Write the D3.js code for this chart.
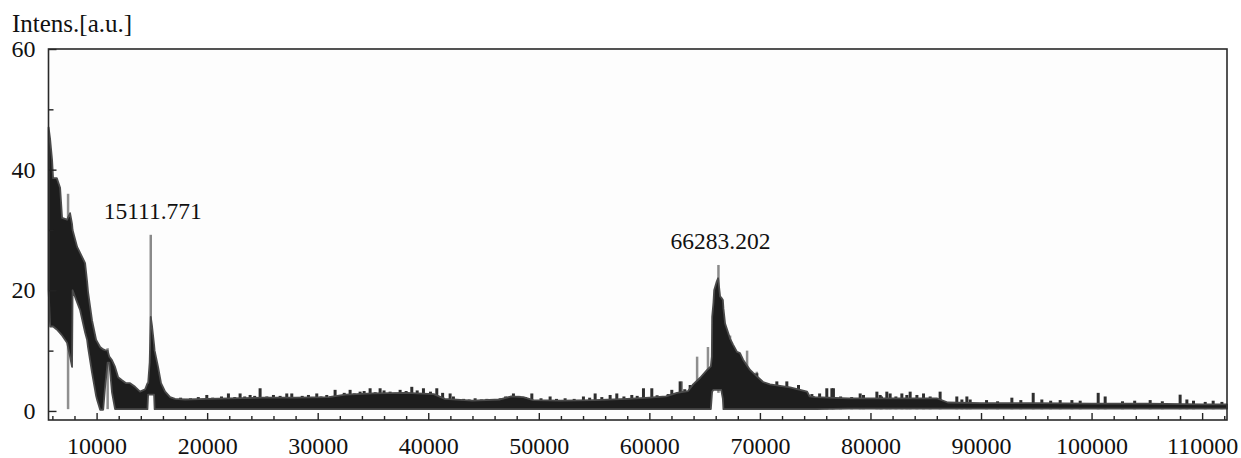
<!DOCTYPE html>
<html>
<head>
<meta charset="utf-8">
<script src="https://cdn.jsdelivr.net/npm/d3@7/dist/d3.min.js"></script>
</head>
<body>
<script>
// Parameters
const width = 1241;
const height = 458;
const margin = { top: 49, right: 14, bottom: 38, left: 48.5 };
const textFont = "'Liberation Serif'";

// envelope of the dense trace: mass (Da), upper and lower intensity
const envMass = [5658, 5800, 5975, 6065, 6400, 6700, 6880, 7330, 7600, 7780, 7830, 8240, 8510, 8960, 9140, 9230, 9590, 9955, 10050, 10320,
    10600, 10770, 11000, 11150, 11400, 11670, 11950, 12300, 12670, 13030, 13480, 13930, 14390, 14600, 14660, 14800, 14900, 15020, 15200, 15250,
    15560, 15830, 16200, 16650, 17100, 18000, 20000, 22000, 25000, 28000, 31000, 32500, 35000, 38000, 40500, 41500, 44000, 46500, 47500, 48600,
    49500, 52000, 55000, 58000, 60000, 61500, 62500, 63500, 63960, 64594, 65225, 65560, 65650, 65680, 65800, 65860, 66100, 66220, 66400, 66500,
    66650, 66700, 66850, 67120, 67300, 67570, 67930, 68200, 68480, 69110, 69390, 70290, 70920, 72730, 74270, 74500, 75000, 78000, 82000, 86000,
    87000, 90000, 95000, 100000, 105000, 110000, 112250];
const envHigh = [47, 45, 41.6, 38.6, 38.6, 37, 32, 31.7, 32.8, 31, 30, 27.2, 26.2, 24.5, 21.5, 19.7, 15, 11.8, 11.5, 10.6,
    10.2, 10.1, 10, 9, 8.4, 7.3, 5.6, 5.1, 4.6, 4.6, 4, 3.2, 3.6, 4.6, 4.6, 8, 15.6, 14, 11, 10,
    7.3, 4.6, 3.2, 2.3, 2.0, 1.9, 2.0, 2.1, 2.2, 2.2, 2.3, 2.7, 2.9, 3.0, 2.8, 2.0, 1.7, 1.9, 2.4, 2.3,
    1.8, 1.7, 1.8, 2.0, 2.2, 2.4, 3.0, 3.3, 4.4, 5.5, 6.8, 7.4, 9, 15.6, 18, 20, 21.5, 22, 19, 18.8,
    18.4, 17, 14.5, 13, 12, 11, 9.8, 9.6, 8.5, 6.8, 6.3, 4.8, 4.4, 3.9, 3.2, 2.4, 2.3, 2.1, 2.1, 2.1,
    1.4, 1.3, 1.3, 1.2, 1.2, 1.1, 1.1];
const envLow = [20, 14, 14, 14, 13.5, 12.9, 12.5, 11.3, 9, 7.3, 20, 18, 16.7, 13, 11.8, 10.5, 6.3, 2.5, 1.8, 0.2,
    0.2, 4, 8, 8, 3, 0.3, 0.3, 0.3, 0.3, 0.3, 0.3, 0.3, 0.3, 0.3, 2.7, 2.7, 2.7, 2.7, 2.7, 0.3,
    0.3, 0.3, 0.3, 0.3, 0.3, 0.3, 0.3, 0.3, 0.3, 0.3, 0.3, 0.3, 0.3, 0.3, 0.3, 0.3, 0.3, 0.3, 0.3, 0.3,
    0.3, 0.3, 0.3, 0.3, 0.3, 0.3, 0.3, 0.3, 0.3, 0.3, 0.3, 0.3, 2.5, 3.2, 3.5, 3.5, 3.5, 3.5, 3.5, 3.5,
    2, 0.3, 0.3, 0.3, 0.3, 0.3, 0.3, 0.3, 0.3, 0.3, 0.3, 0.3, 0.3, 0.3, 0.3, 0.3, 0.3, 0.4, 0.4, 0.4,
    0.4, 0.4, 0.4, 0.4, 0.4, 0.4, 0.4];

// small noise spikes standing on the baseline
const spikeMass = [17600, 18500, 19200, 19968, 21925, 22981, 23886, 24790, 25996, 27202, 27655, 29162, 29916, 30820, 31574, 32931, 33836, 34740, 35645, 36550,
    37455, 38510, 39565, 40772, 41978, 42276, 43200, 44240, 45300, 46500, 47705, 49368, 51023, 52380, 54036, 55096, 56452, 57055, 58412, 59467,
    60221, 61273, 62030, 62785, 63690, 69720, 71530, 72435, 73490, 76050, 76510, 76650, 79070, 79370, 80580, 80880, 81480, 81780, 82840, 83290,
    83590, 84200, 84800, 86300, 87810, 88270, 88720, 89020, 90500, 91500, 92790, 93600, 94720, 95500, 96300, 97160, 98220, 98970, 100600, 101230,
    102800, 103900, 105300, 106400, 108010, 108620, 109220, 110280, 111000, 111790,
    32400, 33300, 34200, 35200, 36000, 37000, 38000, 39000, 40200, 41300,
    18000, 20500, 21300, 22500, 23400, 24300, 25400, 26600, 28000, 28600, 30300, 31100,
    43700, 44800, 47000, 48200, 48800, 50200, 51600, 53200, 54600, 55700, 57700, 58900, 60700, 61700, 63200,
    74700, 75400, 77300, 78300, 81000, 82300, 85400];
const spikeTop = [2.2, 2.1, 2.3, 2.65, 2.9, 2.9, 2.65, 3.76, 2.65, 2.9, 2.9, 2.65, 2.9, 2.65, 3.5, 3.5, 3.2, 3.76, 3.76, 3.2,
    3.5, 4.0, 3.76, 3.76, 2.9, 2.4, 2.0, 2.1, 2.0, 2.1, 2.9, 2.9, 2.4, 2.1, 2.4, 2.9, 2.65, 2.9, 2.65, 3.76,
    3.76, 2.1, 3.5, 4.9, 4.3, 6.25, 4.9, 4.9, 4.3, 3.76, 3.76, 3.76, 2.9, 2.65, 3.2, 2.65, 3.2, 2.9, 2.9, 2.65,
    3.2, 2.65, 2.9, 3.2, 2.4, 1.9, 2.4, 1.9, 1.8, 1.6, 2.2, 1.8, 3.0, 1.9, 1.7, 1.8, 1.8, 1.7, 3.0, 2.4,
    1.6, 1.7, 1.8, 1.6, 2.7, 1.9, 1.7, 1.5, 1.7, 1.5,
    3.0, 2.9, 3.3, 3.1, 3.4, 3.0, 3.3, 3.4, 3.2, 3.0,
    2.0, 2.2, 2.4, 2.3, 2.4, 2.5, 2.4, 2.5, 2.3, 2.5, 2.4, 2.3,
    1.9, 1.9, 2.4, 2.5, 2.3, 2.1, 2.0, 2.0, 2.2, 2.3, 2.4, 2.5, 2.6, 2.8, 3.6,
    2.8, 2.9, 2.4, 2.3, 2.4, 2.4, 2.4];

// lighter grey single-channel spikes
const greyMass = [7420, 11000, 62930, 64320, 65300, 67300, 68840, 69720];
const greyTop = [36, 10.4, 4.9, 9, 10.6, 12.5, 10, 6.5];

// labelled peaks
const peakMass = [14900, 66250];
const peakTop = [29.2, 24.2];
const peakLabel = ['15111.771', '66283.202'];

// axis ticks
const xMajor = [10000, 20000, 30000, 40000, 50000, 60000, 70000, 80000, 90000, 100000, 110000];
const xMinor = [6000, 8000, 12000, 14000, 16000, 18000, 22000, 24000, 26000, 28000, 32000, 34000, 36000, 38000, 42000, 44000, 46000, 48000,
    52000, 54000, 56000, 58000, 62000, 64000, 66000, 68000, 72000, 74000, 76000, 78000, 82000, 84000, 86000, 88000,
    92000, 94000, 96000, 98000, 102000, 104000, 106000, 108000, 112000];
const yMajor = [0, 20, 40, 60];
const yMinor = [10, 30, 50];

function drawGraph() {
    d3.select('body').style('margin', '0px');

    const svg = d3.select('body')
        .append('svg')
        .attr('width', width)
        .attr('height', height)
        .attr('font-family', 'Liberation Serif')
        .style('display', 'block');

    const scaleX = d3.scaleLinear()
        .domain([5650, 112250])
        .range([margin.left, width - margin.right]);

    const scaleY = d3.scaleLinear()
        .domain([-1.5, 60])
        .range([height - margin.bottom, margin.top]);

    // plot background
    svg.append('rect')
        .attr('x', margin.left).attr('y', margin.top)
        .attr('width', width - margin.right - margin.left)
        .attr('height', height - margin.bottom - margin.top)
        .attr('fill', '#fdfdfd');

    // grey spikes (behind the dense trace)
    svg.append('g')
        .selectAll('line')
        .data(greyMass.map((m, i) => ({ m: m, v: greyTop[i] })))
        .join('line')
        .attr('x1', d => scaleX(d.m)).attr('x2', d => scaleX(d.m))
        .attr('y1', scaleY(0.3)).attr('y2', d => scaleY(d.v))
        .attr('stroke', '#8f8f8f')
        .attr('stroke-width', 2.5);

    const peaks = peakMass.map((m, i) => ({ m: m, v: peakTop[i], label: peakLabel[i] }));
    svg.append('g')
        .selectAll('line')
        .data(peaks)
        .join('line')
        .attr('x1', d => scaleX(d.m)).attr('x2', d => scaleX(d.m))
        .attr('y1', scaleY(3)).attr('y2', d => scaleY(d.v))
        .attr('stroke', '#8a8a8a')
        .attr('stroke-width', 2.5);

    // noise spikes
    svg.append('g')
        .selectAll('line')
        .data(spikeMass.map((m, i) => ({ m: m, v: spikeTop[i] })))
        .join('line')
        .attr('x1', d => scaleX(d.m)).attr('x2', d => scaleX(d.m))
        .attr('y1', scaleY(0.3)).attr('y2', d => scaleY(d.v))
        .attr('stroke', '#2e2e2e')
        .attr('stroke-width', 3);

    // dense trace envelope
    const env = envMass.map((m, i) => ({ m: m, hi: envHigh[i], lo: envLow[i] }));
    const area = d3.area()
        .x(d => scaleX(d.m))
        .y0(d => scaleY(d.lo))
        .y1(d => scaleY(d.hi));

    svg.append('path')
        .datum(env)
        .attr('d', area)
        .attr('fill', '#1d1d1d')
        .attr('stroke', '#4a4a4a')
        .attr('stroke-width', 1.8)
        .attr('stroke-linejoin', 'round');

    // axes
    const bottom = height - margin.bottom;
    const xAxis = svg.append('g')
        .attr('transform', `translate(0, ${bottom})`)
        .call(d3.axisBottom(scaleX).tickValues(xMajor).tickSize(-7).tickPadding(17).tickFormat(d3.format('d')));
    svg.append('g')
        .attr('transform', `translate(0, ${bottom})`)
        .call(d3.axisBottom(scaleX).tickValues(xMinor).tickSize(-4).tickFormat(''))
        .select('.domain').remove();

    const yAxis = svg.append('g')
        .attr('transform', `translate(${margin.left}, 0)`)
        .call(d3.axisLeft(scaleY).tickValues(yMajor).tickSize(-8).tickPadding(13));
    svg.append('g')
        .attr('transform', `translate(${margin.left}, 0)`)
        .call(d3.axisLeft(scaleY).tickValues(yMinor).tickSize(-5).tickFormat(''))
        .select('.domain').remove();

    xAxis.select('.domain').remove();
    yAxis.select('.domain').remove();

    svg.selectAll('.tick line').attr('stroke', '#222').attr('stroke-width', 1.4);

    // frame
    svg.append('rect')
        .attr('x', margin.left).attr('y', margin.top)
        .attr('width', width - margin.right - margin.left)
        .attr('height', height - margin.bottom - margin.top)
        .attr('fill', 'none')
        .attr('stroke', '#2a2a2a')
        .attr('stroke-width', 1.6);

    // texts: peak labels, axis title
    svg.selectAll('text.peak')
        .data(peaks)
        .join('text')
        .attr('class', 'peak')
        .attr('text-anchor', 'middle')
        .attr('x', d => scaleX(d.m) + 2)
        .attr('y', d => scaleY(d.v) - 16)
        .text(d => d.label);

    svg.append('text')
        .attr('class', 'title')
        .attr('x', 12)
        .attr('y', 32)
        .text('Intens.[a.u.]');

    // one font for every text, set on each element
    svg.selectAll('g').attr('font-family', 'Liberation Serif');
    svg.selectAll('text')
        .attr('font-family', 'Liberation Serif')
        .style('font-family', textFont)
        .style('font-size', '24px')
        .style('fill', '#111');
    svg.selectAll('text.peak').style('font-size', '23.5px');
    svg.select('text.title').style('font-size', '25px');
}

drawGraph();
</script>
</body>
</html>
